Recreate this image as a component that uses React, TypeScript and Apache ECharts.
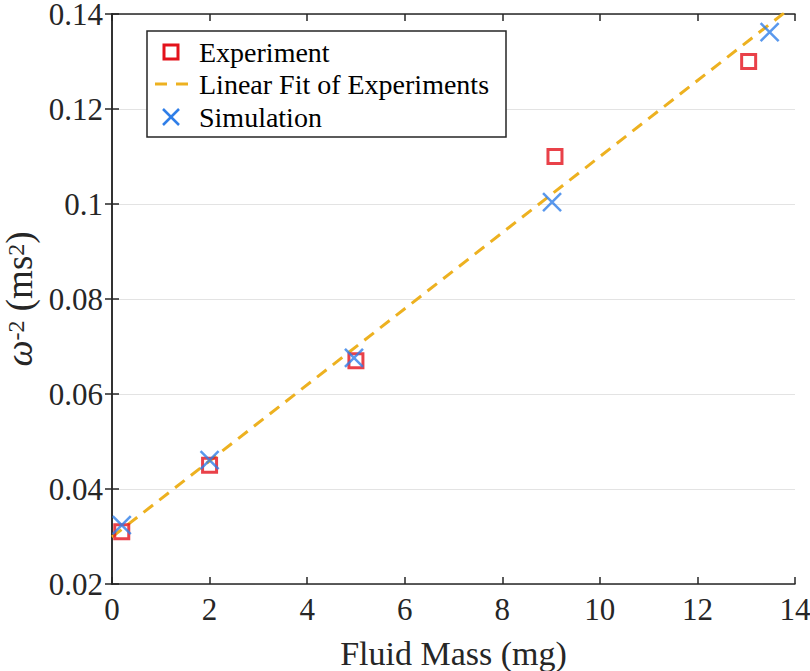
import React, { useEffect, useRef } from "react";
import * as echarts from "echarts";

const expX = [0.2, 2.0, 5.0, 9.08, 13.05];
const expY = [0.031, 0.045, 0.067, 0.11, 0.13];
const simX = [0.2, 2.0, 4.96, 9.02, 13.48];
const simY = [0.0324, 0.0461, 0.0676, 0.1004, 0.1362];
const fitX = [0, 14];
const fitY = [0.0299, 0.142];
const legendNames = ["Experiment", "Linear Fit of Experiments", "Simulation"];
const xTicks = { min: 0, max: 14, interval: 2 };
const yTicks = { min: 0.02, max: 0.14, interval: 0.02 };

const FONT = "Liberation Serif";
const AX = "#262626";
const RED = "#e3121b";
const BLUE = "#2f7ee8";
const YEL = "#EDB120";

export default function App() {
  const ref = useRef<HTMLDivElement>(null);
  useEffect(() => {
    if (!ref.current) return;
    const chart = echarts.init(ref.current, undefined, { renderer: "svg" });
    const axisLine = { show: true, lineStyle: { color: AX, width: 1.5 } };
    const axisTick = { show: true, inside: true, length: 7, lineStyle: { color: AX, width: 1.5 } };

    const lx = 147, ly = 31, lw = 359, lh = 106;
    const rows = [52, 84, 117];
    const iconX = 171;
    const textX = 199;
    const legendGraphics: any[] = [
      {
        type: "rect",
        shape: { x: lx, y: ly, width: lw, height: lh },
        style: { fill: "#fff", stroke: AX, lineWidth: 1.5 },
        z: 100,
      },
      {
        type: "rect",
        shape: { x: iconX - 7, y: rows[0] - 7, width: 14, height: 14 },
        style: { fill: "none", stroke: RED, lineWidth: 3 },
        z: 101,
      },
      {
        type: "line",
        shape: { x1: 155, y1: rows[1], x2: 188, y2: rows[1] },
        style: { stroke: YEL, lineWidth: 3, lineDash: [12, 9] },
        z: 101,
      },
      {
        type: "line",
        shape: { x1: iconX - 8, y1: rows[2] - 8, x2: iconX + 8, y2: rows[2] + 8 },
        style: { stroke: BLUE, lineWidth: 2.5 },
        z: 101,
      },
      {
        type: "line",
        shape: { x1: iconX + 8, y1: rows[2] - 8, x2: iconX - 8, y2: rows[2] + 8 },
        style: { stroke: BLUE, lineWidth: 2.5 },
        z: 101,
      },
      ...legendNames.map((n, i) => ({
        type: "text",
        x: textX,
        y: rows[i],
        z: 101,
        style: { text: n, fontSize: 28, fontFamily: FONT, fill: "#000", verticalAlign: "middle", align: "left" },
      })),
    ];

    chart.setOption({
      animation: false,
      backgroundColor: "#fff",
      textStyle: { fontFamily: FONT },
      grid: { left: 112, right: 15, top: 14, bottom: 87, containLabel: false, outerBoundsMode: "none" },
      graphic: legendGraphics,
      xAxis: [
        {
          type: "value",
          ...xTicks,
          axisLine,
          axisTick,
          splitLine: { show: false },
          axisLabel: { fontSize: 31, fontFamily: FONT, color: AX, margin: 14, lineHeight: 22 },
          name: "Fluid Mass (mg)",
          nameLocation: "middle",
          nameGap: 52,
          nameTextStyle: { fontSize: 34, fontFamily: FONT, color: AX },
        },
        {
          type: "value",
          position: "top",
          ...xTicks,
          axisLine,
          axisTick,
          splitLine: { show: false },
          axisLabel: { show: false },
        },
      ],
      yAxis: [
        {
          type: "value",
          ...yTicks,
          axisLine,
          axisTick,
          splitLine: { show: true, lineStyle: { color: "#e3e3e3", width: 1.2 } },
          axisLabel: {
            fontSize: 31,
            fontFamily: FONT,
            color: AX,
            margin: 9,
            lineHeight: 22,
            formatter: (v: number) => String(+v.toFixed(2)),
          },
          name: "{w|ω}{s|-2}{t| (ms}{s|2}{t|)}",
          nameLocation: "middle",
          nameGap: 74,
          nameTextStyle: {
            color: AX,
            fontFamily: FONT,
            rich: {
              w: { fontSize: 37, fontFamily: FONT, fontStyle: "italic", color: AX, lineHeight: 30, verticalAlign: "middle" },
              t: { fontSize: 37, fontFamily: FONT, color: AX, lineHeight: 30, verticalAlign: "middle" },
              s: { fontSize: 24, fontFamily: FONT, color: AX, lineHeight: 12, verticalAlign: "top" },
            },
          },
        },
        {
          type: "value",
          position: "right",
          ...yTicks,
          axisLine,
          axisTick,
          splitLine: { show: false },
          axisLabel: { show: false },
        },
      ],
      series: [
        {
          name: "Linear Fit of Experiments",
          type: "line",
          data: fitX.map((x, i) => [x, fitY[i]]),
          symbol: "none",
          clip: true,
          z: 1,
          lineStyle: { color: YEL, width: 3, type: [12, 8] },
          itemStyle: { color: YEL },
        },
        {
          name: "Experiment",
          type: "scatter",
          data: expX.map((x, i) => [x, expY[i]]),
          symbol: "rect",
          symbolSize: 14,
          z: 2,
          itemStyle: { color: "transparent", borderColor: RED, borderWidth: 3 },
        },
        {
          name: "Simulation",
          type: "scatter",
          data: simX.map((x, i) => [x, simY[i]]),
          symbol: "path://M0,0L10,10M10,0L0,10",
          symbolSize: 18,
          z: 3,
          itemStyle: { color: "transparent", borderColor: BLUE, borderWidth: 2.5 },
        },
      ],
    });
    return () => chart.dispose();
  }, []);
  return <div ref={ref} style={{ width: 810, height: 671, position: "absolute", left: 0, top: 0 }} />;
}
